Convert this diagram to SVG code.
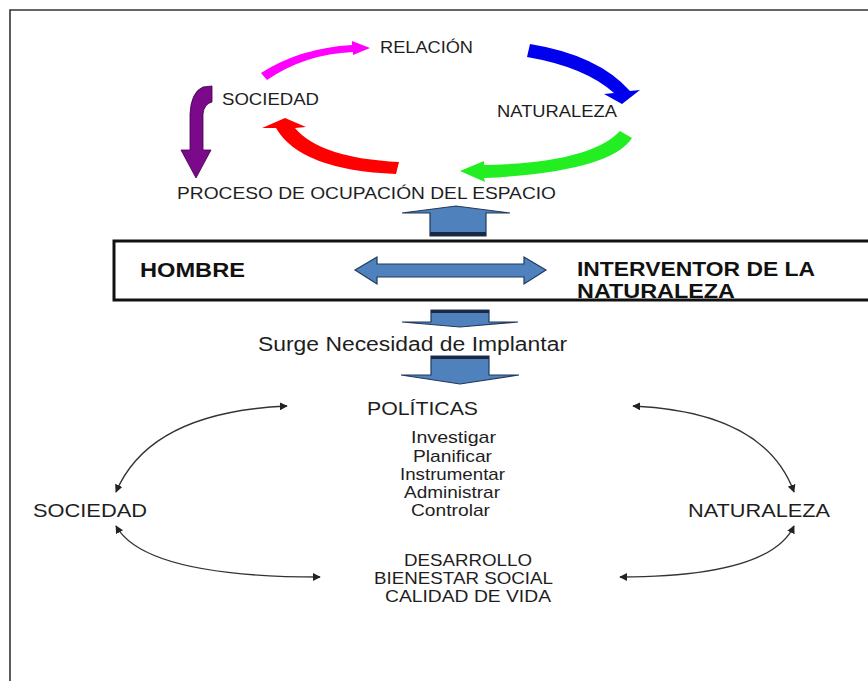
<svg xmlns="http://www.w3.org/2000/svg" width="868" height="681" viewBox="0 0 868 681">
<defs>
<style>
.t{font-family:"Liberation Sans",Arial,sans-serif;fill:#1e1e1e}
.lbl{font-size:17px}
.big{font-size:20px;font-weight:bold;fill:#111}
.mid{font-size:18px}
.sm{font-size:17px}
.con{fill:none;stroke:#333;stroke-width:1.4}
.blue{fill:#4F81BD;stroke:#22395c;stroke-width:1.2}
</style>
<marker id="ah" viewBox="0 0 10 10" refX="9" refY="5" markerWidth="8" markerHeight="8" markerUnits="userSpaceOnUse" orient="auto-start-reverse">
<path d="M0,0 L10,5 L0,10 Z" fill="#222"/>
</marker>
</defs>
<rect width="868" height="681" fill="#fff"/>
<path d="M10,681 L10,10 L868,10" fill="none" stroke="#333" stroke-width="1.6"/>

<g id="cycle-arrows">
<path id="arrow-magenta" d="M261,73 Q300,48 352,45 L352,41 L370,48 L353,55 L353,52 Q305,54 267,80 Z" fill="#ff00ff"/>
<path id="arrow-blue" d="M530,44 Q598,55 630,91 L640,90 L622,104 L604,94 L614,93 Q585,67 527,57 Z" fill="#0000ee"/>
<path id="arrow-green" d="M620,131 L632,138 Q610,172 484,178 L485,182 L460,171 L484,161 L484,165 Q590,163 620,131 Z" fill="#22ee22"/>
<path id="arrow-red" d="M399,162 L396,174 Q300,170 276,128 L262,128 L285,118 L306,127 L295,128 Q320,158 399,162 Z" fill="#ff0000"/>
<path id="arrow-purple" d="M203,87 L212,86 L212,102 Q204,104 203,114 L203,150 L211,150 L196,178 L181,150 L190,150 L190,114 Q191,92 203,87 Z" fill="#7a0a8a" stroke="#3a0040" stroke-width="0.8"/>
</g>

<g id="n-relacion"><text class="t lbl" x="380" y="53" textLength="93" lengthAdjust="spacingAndGlyphs">RELACIÓN</text></g>
<g id="n-sociedad-top"><text class="t lbl" x="222" y="105" textLength="97" lengthAdjust="spacingAndGlyphs">SOCIEDAD</text></g>
<g id="n-naturaleza-top"><text class="t lbl" x="497" y="117" textLength="120" lengthAdjust="spacingAndGlyphs">NATURALEZA</text></g>
<g id="n-proceso"><text class="t lbl" x="177" y="199" textLength="379" lengthAdjust="spacingAndGlyphs">PROCESO DE OCUPACIÓN  DEL ESPACIO</text></g>

<g id="arrow-up">
<path class="blue" d="M430,236 L430,213 L402,213 L456,206 L510,213 L486,213 L486,236 Z"/>
<rect x="430" y="232" width="56" height="4" fill="#1a2a45"/>
</g>

<g id="n-hombre">
<rect x="114" y="241" width="760" height="59" fill="#fff" stroke="#111" stroke-width="3"/>
<text class="t big" x="140" y="277" textLength="105" lengthAdjust="spacingAndGlyphs">HOMBRE</text>
<path class="blue" d="M355,270 L377,257 L377,264 L524,264 L524,257 L546,270 L524,284 L524,277 L377,277 L377,284 Z"/>
<text class="t big" x="577" y="276" textLength="238" lengthAdjust="spacingAndGlyphs">INTERVENTOR DE LA</text>
<text class="t big" x="577" y="298" textLength="158" lengthAdjust="spacingAndGlyphs">NATURALEZA</text>
</g>

<g id="arrow-down-1">
<path class="blue" d="M431,310 L489,310 L489,322 L518,322 L460,327 L402,322 L431,322 Z"/>
<rect x="431" y="310" width="58" height="3" fill="#1a2a45"/>
</g>
<g id="n-surge"><text class="t" style="font-size:20px" x="258" y="351" textLength="309" lengthAdjust="spacingAndGlyphs">Surge Necesidad de Implantar</text></g>
<g id="arrow-down-2">
<path class="blue" d="M431,356 L489,356 L489,375 L519,375 L460,384 L401,375 L431,375 Z"/>
<rect x="431" y="356" width="58" height="3" fill="#1a2a45"/>
</g>

<g id="n-politicas">
<text class="t" style="font-size:19px" x="367" y="415" textLength="111" lengthAdjust="spacingAndGlyphs">POLÍTICAS</text>
<text class="t sm" x="411" y="443" textLength="85" lengthAdjust="spacingAndGlyphs">Investigar</text>
<text class="t sm" x="413" y="462" textLength="79" lengthAdjust="spacingAndGlyphs">Planificar</text>
<text class="t sm" x="400" y="480" textLength="105" lengthAdjust="spacingAndGlyphs">Instrumentar</text>
<text class="t sm" x="404" y="498" textLength="96" lengthAdjust="spacingAndGlyphs">Administrar</text>
<text class="t sm" x="411" y="516" textLength="79" lengthAdjust="spacingAndGlyphs">Controlar</text>
</g>
<g id="n-sociedad"><text class="t mid" x="33" y="517" textLength="114" lengthAdjust="spacingAndGlyphs">SOCIEDAD</text></g>
<g id="n-naturaleza"><text class="t mid" x="688" y="517" textLength="142" lengthAdjust="spacingAndGlyphs">NATURALEZA</text></g>
<g id="n-desarrollo">
<text class="t sm" x="404" y="566" textLength="128" lengthAdjust="spacingAndGlyphs">DESARROLLO</text>
<text class="t sm" x="374" y="584" textLength="179" lengthAdjust="spacingAndGlyphs">BIENESTAR SOCIAL</text>
<text class="t sm" x="385" y="602" textLength="166" lengthAdjust="spacingAndGlyphs">CALIDAD DE VIDA</text>
</g>

<g id="connectors">
<path class="con" d="M287,406 Q150,412 116,492" marker-start="url(#ah)" marker-end="url(#ah)"/>
<path class="con" d="M116,526 Q145,577 320,577" marker-start="url(#ah)" marker-end="url(#ah)"/>
<path class="con" d="M633,406 Q765,412 794,492" marker-start="url(#ah)" marker-end="url(#ah)"/>
<path class="con" d="M794,526 Q770,577 620,577" marker-start="url(#ah)" marker-end="url(#ah)"/>
</g>
</svg>
